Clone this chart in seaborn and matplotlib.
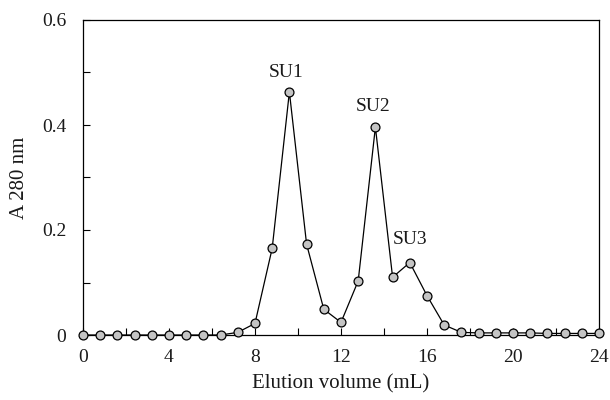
import numpy as np
import pandas as pd
import matplotlib
matplotlib.use("Agg")
import matplotlib.pyplot as plt
import seaborn as sns
from matplotlib.ticker import MultipleLocator

volume = [0.0, 0.8, 1.6, 2.4, 3.2, 4.0, 4.8, 5.6, 6.4, 7.2, 8.0, 8.8, 9.6, 10.4, 11.2,
          12.0, 12.8, 13.6, 14.4, 15.2, 16.0, 16.8, 17.6, 18.4, 19.2, 20.0, 20.8,
          21.6, 22.4, 23.2, 24.0]
absorbance = [0.0, 0.0, 0.0, 0.0, 0.0, 0.0, 0.0, 0.0, 0.0, 0.005, 0.022, 0.165, 0.463,
              0.173, 0.049, 0.024, 0.103, 0.396, 0.110, 0.138, 0.075, 0.019, 0.005,
              0.004, 0.004, 0.004, 0.004, 0.003, 0.003, 0.003, 0.003]
peak_labels = ["SU1", "SU2", "SU3"]
peak_x = [9.45, 13.5, 15.2]
peak_y = [0.50, 0.436, 0.181]

sns.set_theme(style="white")
plt.rcParams['font.family'] = ['Liberation Serif', 'DejaVu Serif']

df = pd.DataFrame({"volume": volume, "absorbance": absorbance})

fig = plt.figure(figsize=(6.1, 4.0), dpi=100)
ax = fig.add_axes([0.136, 0.1625, 0.846, 0.7875])

sns.lineplot(data=df, x="volume", y="absorbance", ax=ax, color="black", linewidth=0.9,
             marker="o", markersize=6.4, markerfacecolor="#c4c4c4",
             markeredgecolor="black", markeredgewidth=0.9, clip_on=False, zorder=3)

for lab, x, y in zip(peak_labels, peak_x, peak_y):
    ax.text(x, y, lab, ha="center", va="center", fontsize=14, color="#1a1a1a")

ax.set_xlim(0, 24)
ax.set_ylim(0, 0.6)
ax.xaxis.set_major_locator(MultipleLocator(4))
ax.xaxis.set_minor_locator(MultipleLocator(2))
ax.yaxis.set_major_locator(MultipleLocator(0.2))
ax.yaxis.set_minor_locator(MultipleLocator(0.1))
ax.set_xticks([0, 4, 8, 12, 16, 20, 24])
ax.set_xticklabels(["0", "4", "8", "12", "16", "20", "24"])
ax.set_yticks([0, 0.2, 0.4, 0.6])
ax.set_yticklabels(["0", "0.2", "0.4", "0.6"])

ax.tick_params(axis="both", which="both", direction="in", left=True, bottom=True,
               top=False, right=False, colors="black", labelcolor="#1a1a1a",
               labelsize=14, width=0.8)
ax.tick_params(axis="x", which="major", length=5, pad=10)
ax.tick_params(axis="y", which="major", length=5, pad=12)
ax.tick_params(axis="both", which="minor", length=5)

for s in ax.spines.values():
    s.set_color("black")
    s.set_linewidth(0.9)

ax.set_xlabel("Elution volume (mL)", fontsize=15, color="#1a1a1a", labelpad=6)
ax.set_ylabel("A 280 nm", fontsize=15, color="#1a1a1a", labelpad=9)
ax.grid(False)

fig.savefig("out.png", dpi=100)
